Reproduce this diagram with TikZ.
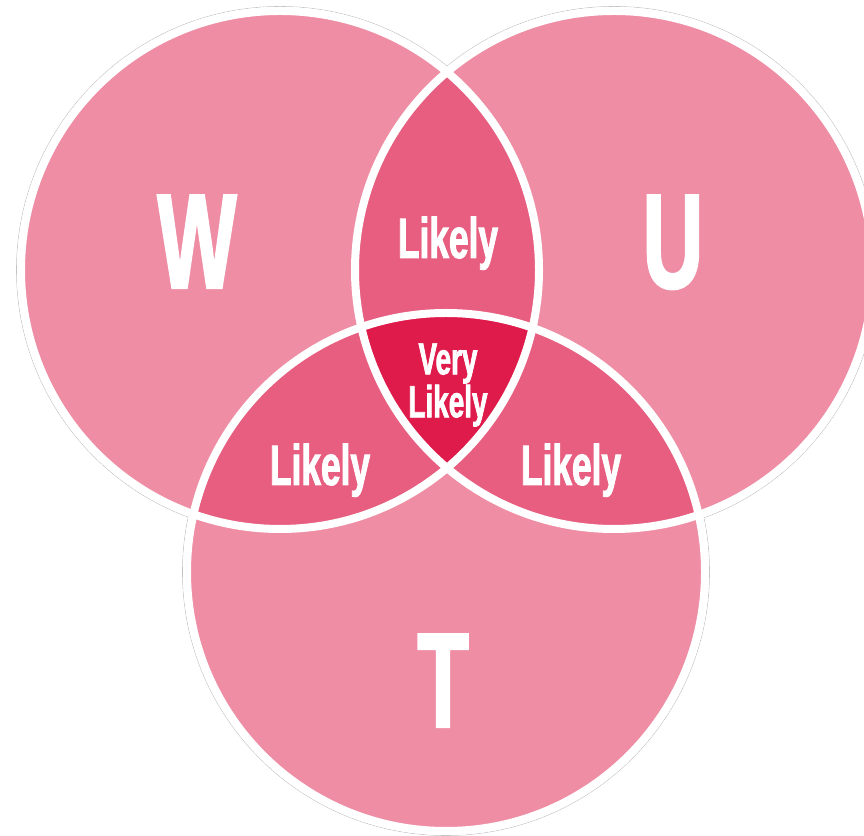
\documentclass[tikz,border=0pt]{standalone}
\usepackage{fontspec}
\setmainfont{Liberation Sans}
\newfontfamily\vennfont[FakeStretch=0.62, FakeBold=1.6]{Liberation Sans Bold}
\definecolor{lightpink}{RGB}{238,141,164}
\definecolor{midpink}{RGB}{231,94,128}
\definecolor{deeppink}{RGB}{222,27,74}
\definecolor{rimgray}{RGB}{195,195,195}

\begin{document}
\begin{tikzpicture}[x=1pt, y=1pt,
    ring/.style={draw=white, line width=8pt},
    rim/.style={draw=rimgray, line width=0.6pt},
    bigletter/.style={text=white, inner sep=0pt, anchor=base, font=\vennfont\fontsize{135}{135}\selectfont},
    likely/.style={text=white, inner sep=0pt, anchor=base, font=\vennfont\fontsize{57}{57}\selectfont}]
    \useasboundingbox (0,0) rectangle (864,835);
    \def\R{259}

    % circle centres
    \coordinate (cw) at (280,565);
    \coordinate (cu) at (614,565);
    \coordinate (ct) at (446,263);

    % grey rim, white halo, pink discs
    \foreach \p in {cw,cu,ct} \draw[rim] (\p) circle (263.5);
    \foreach \p in {cw,cu,ct} \fill[white] (\p) circle (263);
    \foreach \p in {cw,cu,ct} \fill[lightpink] (\p) circle (\R);

    % pairwise overlaps
    \begin{scope}
        \clip (cw) circle (\R);
        \fill[midpink] (cu) circle (\R);
        \fill[midpink] (ct) circle (\R);
    \end{scope}
    \begin{scope}
        \clip (cu) circle (\R);
        \fill[midpink] (ct) circle (\R);
    \end{scope}

    % all three
    \begin{scope}
        \clip (cw) circle (\R);
        \clip (cu) circle (\R);
        \fill[deeppink] (ct) circle (\R);
    \end{scope}

    \foreach \p in {cw,cu,ct} \draw[ring] (\p) circle (\R);

    % labels
    \node[bigletter] (w) at (197,547) {W};
    \node[bigletter] (u) at (673,547) {U};
    \node[bigletter] (t) at (443,108) {T};
    \node[likely] (wu) at (448,577) {Likely};
    \node[likely] (wt) at (320,350) {Likely};
    \node[likely] (ut) at (571,350) {Likely};
    \node[text=white, inner sep=0pt, align=center,
          font=\vennfont\fontsize{45}{38}\selectfont] (wut) at (448,450) {Very\\Likely};
\end{tikzpicture}
\end{document}
